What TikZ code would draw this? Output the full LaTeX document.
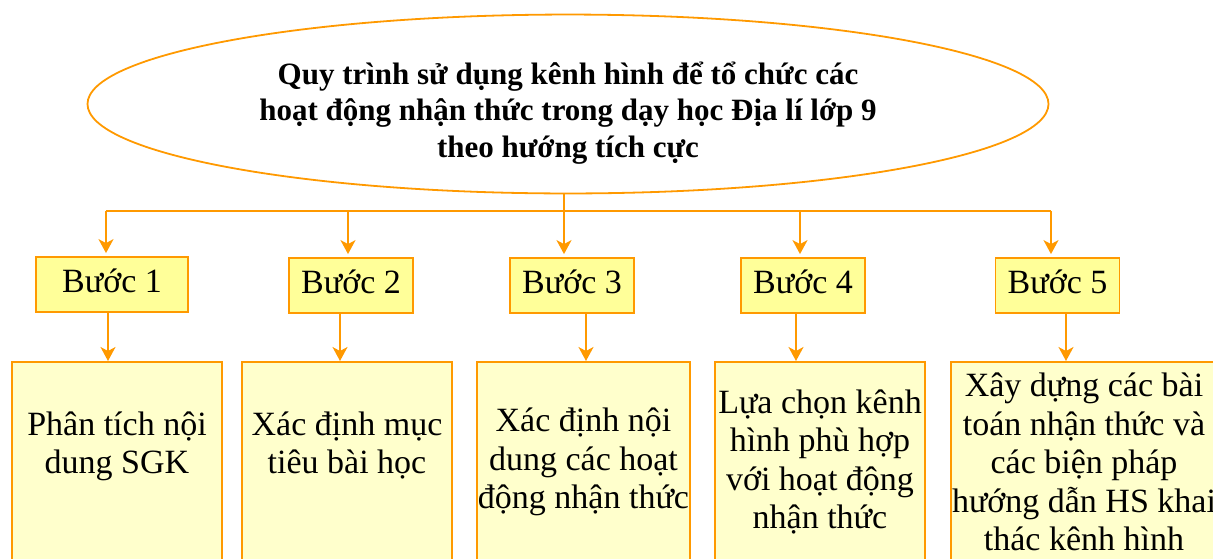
\documentclass[tikz,border=0pt]{standalone}
\usepackage{fontspec}
\setmainfont{Liberation Serif}
\usetikzlibrary{shapes.geometric,arrows.meta}
\definecolor{lineorange}{RGB}{255,153,0}
\definecolor{stepyellow}{RGB}{255,255,153}
\definecolor{boxyellow}{RGB}{255,255,204}

\begin{document}
\begin{tikzpicture}[x=1pt, y=-1pt,
    every node/.style={font=\fontsize{34}{38.5}\selectfont},
    stepbox/.style={draw=lineorange, line width=1.8pt, fill=stepyellow,
      minimum width=124pt, minimum height=55pt, inner sep=0pt,
      text height=24pt, text depth=8pt},
    contentbox/.style={draw=lineorange, line width=1.8pt, fill=boxyellow,
      minimum width=210pt, minimum height=200pt, inner sep=1pt, align=center, anchor=north},
    link/.style={draw=lineorange, line width=1.8pt},
    arrow/.style={link, -{Stealth[length=14pt,width=15pt,inset=4pt]}}]
    \clip (0,0) rectangle (1213,558);

    % Title ellipse
    \node[ellipse, draw=lineorange, line width=1.8pt, minimum width=961pt, minimum height=178pt,
      align=center, font=\bfseries\fontsize{31}{36.5}\selectfont] (title) at (568,104)
      {\rule{0pt}{40pt}Quy trình sử dụng kênh hình để tổ chức các\\hoạt động nhận thức trong dạy học Địa lí lớp 9\\theo hướng tích cực};

    % Steps
    \node[stepbox, minimum width=152pt] (b1) at (112,284.5) {Bước 1};
    \node[stepbox] (b2) at (351,285.5) {Bước 2};
    \node[stepbox] (b3) at (572,285.5) {Bước 3};
    \node[stepbox] (b4) at (803,285.5) {Bước 4};
    \node[stepbox] (b5) at (1057.5,285.5) {Bước 5};

    % Contents of each step
    \node[contentbox] (c1) at (117,361) {Phân tích nội\\dung SGK\\\mbox{}};
    \node[contentbox] (c2) at (347,361) {Xác định mục\\tiêu bài học\\\mbox{}};
    \node[contentbox] (c3) at (583.5,361) {Xác định nội\\dung các hoạt\\động nhận thức};
    \node[contentbox] (c4) at (820,361) {Lựa chọn kênh\\hình phù hợp\\với hoạt động\\nhận thức};
    \node[contentbox, minimum width=266pt] (c5) at (1084,361) {Xây dựng các bài\\toán nhận thức và\\các biện pháp\\hướng dẫn HS khai\\thác kênh hình};

    % Branching line under the title
    \coordinate (bus1) at (106,211);
    \coordinate (bus2) at (348,211);
    \coordinate (bus3) at (564,211);
    \coordinate (bus4) at (800,211);
    \coordinate (bus5) at (1051,211);
    \draw[link] (bus3 |- title.south) -- (bus3);
    \draw[link] (bus1) -- (bus5);
    \foreach \i in {1,...,5}
      \draw[arrow, shorten >=3pt] (bus\i) -- (bus\i |- b\i.north);

    % Steps to contents
    \foreach \i/\dx in {1/-4, 2/-11, 3/14, 4/-7, 5/8.5}
      \draw[arrow] ([xshift=\dx]b\i.south) -- ([xshift=\dx]b\i.south |- c\i.north);
  \end{tikzpicture}
\end{document}
